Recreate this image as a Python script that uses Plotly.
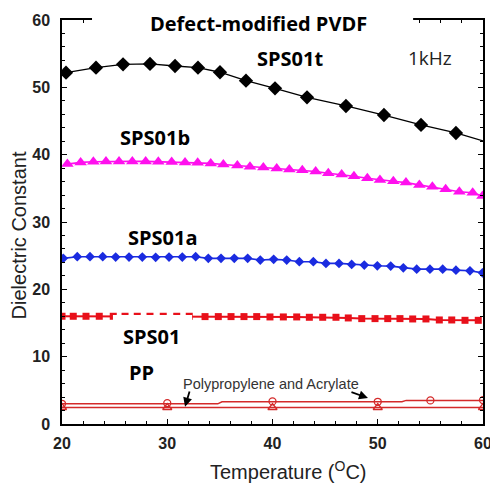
import plotly.graph_objects as go

# ---------------- data ----------------
t_x = [20.38, 23.23, 25.80, 28.36, 30.74, 32.92, 35.01, 37.48, 40.24, 43.28, 46.98, 50.59, 54.11, 57.43, 60.0]
t_y = [52.18, 52.92, 53.42, 53.47, 53.17, 52.92, 52.24, 50.99, 49.86, 48.52, 47.23, 45.89, 44.41, 43.22, 42.03]
t_marker = [1, 1, 1, 1, 1, 1, 1, 1, 1, 1, 1, 1, 1, 1, 0]

b_x = [20.51, 21.77, 22.98, 24.18, 25.42, 26.68, 27.95, 29.15, 30.42, 31.69, 32.89, 34.13, 35.33,
       36.66, 37.86, 39.13, 40.40, 41.60, 42.83, 44.10, 45.30, 46.57, 47.74, 49.01, 50.21, 51.48,
       52.68, 53.95, 55.19, 56.45, 57.75, 59.02, 59.95]
b_y = [38.6, 38.85, 38.95, 39.0, 39.0, 39.0, 39.0, 38.95, 38.9, 38.85, 38.8, 38.7, 38.55,
       38.4, 38.2, 38.1, 37.95, 37.8, 37.7, 37.5, 37.25, 37.05, 36.8, 36.5, 36.25, 36.05,
       35.85, 35.5, 35.25, 34.85, 34.5, 34.35, 33.85]

a_x = [20.12, 21.45, 22.66, 23.87, 25.10, 26.37, 27.63, 28.90, 30.17, 31.43, 32.70, 33.90, 35.11,
       36.37, 37.64, 38.84, 40.11, 41.35, 42.55, 43.88, 45.08, 46.32, 47.52, 48.72, 49.96, 51.23,
       52.43, 53.70, 54.96, 56.17, 57.43, 58.76, 59.95]
a_y = [24.6, 24.85, 24.85, 24.85, 24.8, 24.8, 24.8, 24.75, 24.8, 24.8, 24.85, 24.6, 24.6,
       24.6, 24.6, 24.35, 24.45, 24.35, 24.1, 24.1, 23.85, 23.85, 23.7, 23.6, 23.5, 23.45,
       23.2, 23.0, 23.0, 23.0, 22.85, 22.75, 22.45]

s_x = [20.0, 21.07, 22.28, 23.54, 24.87, 25.99, 27.15, 28.36, 29.62, 30.90, 32.09, 33.59, 34.85,
       36.06, 37.29, 38.50, 39.76, 41.03, 42.30, 43.50, 44.77, 46.03, 47.20, 48.48, 49.74, 50.95,
       52.11, 53.32, 54.58, 55.85, 57.03, 58.29, 59.55]
s_y = [16.0, 16.0, 16.0, 16.0, 16.0, 16.0, 16.0, 16.0, 16.0, 16.0, 16.0, 15.95, 15.95,
       15.95, 15.95, 15.95, 15.9, 15.9, 15.9, 15.85, 15.85, 15.85, 15.75, 15.65, 15.65, 15.65,
       15.65, 15.6, 15.6, 15.45, 15.45, 15.4, 15.4]

pp1_line_x = [20, 34.8, 35.2, 52.3, 52.7, 60]
pp1_line_y = [3.0, 3.0, 3.3, 3.3, 3.5, 3.5]
pp1_mark_x = [20, 30, 40, 50, 55, 60]
pp1_mark_y = [3.0, 3.1, 3.35, 3.3, 3.5, 3.55]
pp2_line_x = [20, 60]
pp2_line_y = [2.45, 2.45]
pp2_mark_x = [20, 30, 40, 50, 60]
pp2_mark_y = [2.45, 2.45, 2.45, 2.45, 2.45]

x_ticks = [20, 30, 40, 50, 60]
y_ticks = [0, 10, 20, 30, 40, 50, 60]

# ---------------- figure ----------------
fig = go.Figure()

PPC = "#d42a2a"
fig.add_trace(go.Scatter(x=pp2_line_x, y=pp2_line_y, mode="lines",
                         line=dict(color=PPC, width=1.4), showlegend=False))
fig.add_trace(go.Scatter(x=pp2_mark_x, y=pp2_mark_y, mode="markers",
                         marker=dict(symbol="triangle-up-open", size=8, color=PPC,
                                     line=dict(width=1.3, color=PPC)), showlegend=False))
fig.add_trace(go.Scatter(x=pp1_line_x, y=pp1_line_y, mode="lines",
                         line=dict(color=PPC, width=1.4), showlegend=False))
fig.add_trace(go.Scatter(x=pp1_mark_x, y=pp1_mark_y, mode="markers",
                         marker=dict(symbol="circle-open", size=7, color=PPC,
                                     line=dict(width=1.3, color=PPC)), showlegend=False))

fig.add_trace(go.Scatter(x=s_x, y=s_y, mode="lines+markers",
                         line=dict(color="#e8101a", width=2),
                         marker=dict(symbol="square", size=7, color="#e8101a"),
                         showlegend=False))
fig.add_trace(go.Scatter(x=a_x, y=a_y, mode="lines+markers",
                         line=dict(color="#1a2be0", width=1.6),
                         marker=dict(symbol="diamond", size=7.5, color="#1a2be0"),
                         showlegend=False))
fig.add_trace(go.Scatter(x=b_x, y=b_y, mode="lines+markers",
                         line=dict(color="#ff10ee", width=1.6),
                         marker=dict(symbol="triangle-up", size=11, color="#ff10ee"),
                         showlegend=False))
fig.add_trace(go.Scatter(x=t_x, y=t_y, mode="lines+markers",
                         line=dict(color="#000000", width=1.3),
                         marker=dict(symbol="diamond", size=[11 * m for m in t_marker], color="#000000",
                                     opacity=1, line=dict(width=0)),
                         showlegend=False))

tickfont = dict(family="Liberation Sans, Arial, sans-serif",
                size=16, color="#222222", weight="bold")
axis_common = dict(showline=True, linecolor="black", linewidth=1.5, mirror="ticks",
                   ticks="inside", ticklen=5, tickwidth=1.2, tickcolor="black",
                   showgrid=False, zeroline=False, tickfont=tickfont,
                   ticklabeloverflow="allow", automargin=False,
                   minor=dict(ticks="inside", ticklen=3, tickwidth=1, tickcolor="black",
                              showgrid=False, dtick=2))

fig.update_xaxes(range=[20, 60], tickvals=x_ticks, ticktext=[str(v) for v in x_ticks],
                 ticklabelstandoff=4, **axis_common)
fig.update_yaxes(range=[0, 60], tickvals=y_ticks, ticktext=[str(v) for v in y_ticks],
                 ticklabelstandoff=7, **axis_common)

# white boxes (cover frame behind title and behind SPS01 label)
fig.add_shape(type="rect", xref="paper", yref="paper", x0=0.0713, x1=0.834, y0=0.983, y1=1.02,
              fillcolor="white", line=dict(width=0), layer="above")
fig.add_shape(type="rect", xref="paper", yref="paper", x0=0.121, x1=0.309, y0=0.178, y1=0.27,
              fillcolor="white", line=dict(width=0), layer="above")

bold = dict(family="Open Sans, Liberation Sans, sans-serif", size=20, color="black", weight="bold")
labels = [
    ("Defect-modified PVDF", 38.67, 59.5),
    ("SPS01t", 41.66, 54.3),
    ("SPS01b", 28.88, 42.6),
    ("SPS01a", 29.6, 27.75),
    ("SPS01", 28.55, 13.05),
    ("PP", 27.55, 7.7),
]
for txt, xx, yy in labels:
    fig.add_annotation(x=xx, y=yy, text=txt, showarrow=False, font=bold,
                       xanchor="center", yanchor="middle")

fig.add_annotation(x=54.96, y=54.4, text="1kHz", showarrow=False,
                   font=dict(family="Open Sans, Liberation Sans, sans-serif", size=19, color="#222222"))

fig.add_annotation(x=39.9, y=5.94, text="Polypropylene and Acrylate", showarrow=False,
                   font=dict(family="Liberation Sans, sans-serif", size=14.5, color="#333333"))
fig.add_annotation(x=31.69, y=2.57, ax=32.16, ay=5.05, axref="x", ayref="y", text="",
                   showarrow=True, arrowhead=2, arrowsize=1, arrowwidth=1.8, arrowcolor="black", standoff=0)
fig.add_annotation(x=49.07, y=3.86, ax=47.36, ay=4.80, axref="x", ayref="y", text="",
                   showarrow=True, arrowhead=2, arrowsize=1, arrowwidth=1.8, arrowcolor="black", standoff=0)

axis_title_font = dict(family="Liberation Sans, Arial, sans-serif", size=20, color="#222222")
fig.add_annotation(xref="paper", yref="paper", x=-0.102, y=0.467, text="Dielectric Constant",
                   textangle=-90, showarrow=False, font=axis_title_font,
                   xanchor="center", yanchor="middle")
fig.add_annotation(xref="paper", yref="paper", x=0.537, y=-0.114, text="Temperature (<sup>O</sup>C)",
                   showarrow=False, font=axis_title_font, xanchor="center", yanchor="middle")

fig.update_layout(width=490, height=483, margin=dict(l=62, r=7, t=20, b=59, autoexpand=False),
                  plot_bgcolor="white", paper_bgcolor="white")

fig.write_html("out.html")
